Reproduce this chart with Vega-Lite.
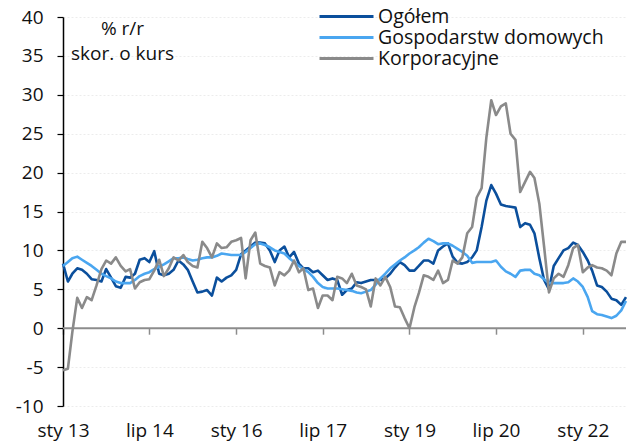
{
"$schema": "https://vega.github.io/schema/vega-lite/v6.json",
"width": 563, "height": 389,
"autosize": {"type": "none"},
"padding": {"left": 63, "top": 17, "right": 9, "bottom": 42},
"background": "white",
"config": {"font": "Open Sans", "view": {"stroke": null},
"axisY": {"values": [-10, -5, 0, 5, 10, 15, 20, 25, 30, 35, 40],
"labelExpr": "'' + datum.value", "labelOverlap": false, "labelFlush": false,
"domain": true, "domainColor": "#000000", "domainWidth": 1.5,
"ticks": true, "tickColor": "#000000", "tickSize": 6, "tickWidth": 1.2,
"labelFontSize": 19, "labelColor": "#111111", "labelPadding": 14,
"grid": true, "gridColor": "#ececec", "gridDash": [2, 2], "gridWidth": 1,
"titleAngle": 0, "titleX": 59, "titleY": 17,
"titleAlign": "center", "titleBaseline": "alphabetic", "titleFontWeight": "normal",
"titleFontSize": 19, "titleColor": "#111111", "titleLineHeight": 25}},
"layer": [
{
"data": {"values": [{}]},
"mark": {"type": "rule", "color": "#8c8c8c", "strokeWidth": 2},
"encoding": {
"y": {"datum": 0, "type": "quantitative", "scale": {"domain": [-10, 40], "nice": false, "zero": false},
"axis": {"values": [-10, -5, 0, 5, 10, 15, 20, 25, 30, 35, 40], "title": ["% r/r", "skor. o kurs"]}}
}
},
{
"data": {"values": [
{"d":"2013-01-01","o":8.3,"g":8.0,"k":-5.4},
{"d":"2013-02-01","o":6.0,"g":8.5,"k":-5.2},
{"d":"2013-03-01","o":7.0,"g":9.0,"k":-0.5},
{"d":"2013-04-01","o":7.7,"g":9.2,"k":3.9},
{"d":"2013-05-01","o":7.5,"g":8.8,"k":2.6},
{"d":"2013-06-01","o":7.0,"g":8.4,"k":4.0},
{"d":"2013-07-01","o":6.3,"g":8.0,"k":3.6},
{"d":"2013-08-01","o":6.2,"g":7.5,"k":5.5},
{"d":"2013-09-01","o":6.0,"g":7.0,"k":7.6},
{"d":"2013-10-01","o":7.6,"g":6.7,"k":8.7},
{"d":"2013-11-01","o":6.5,"g":6.4,"k":8.3},
{"d":"2013-12-01","o":5.4,"g":6.0,"k":9.1},
{"d":"2014-01-01","o":5.2,"g":5.8,"k":8.0},
{"d":"2014-02-01","o":6.6,"g":5.8,"k":7.3},
{"d":"2014-03-01","o":6.5,"g":5.8,"k":7.6},
{"d":"2014-04-01","o":7.0,"g":6.2,"k":5.1},
{"d":"2014-05-01","o":8.8,"g":6.7,"k":5.9},
{"d":"2014-06-01","o":9.0,"g":7.0,"k":6.2},
{"d":"2014-07-01","o":8.5,"g":7.2,"k":6.3},
{"d":"2014-08-01","o":9.9,"g":7.6,"k":7.4},
{"d":"2014-09-01","o":7.0,"g":7.9,"k":8.8},
{"d":"2014-10-01","o":6.8,"g":8.2,"k":6.7},
{"d":"2014-11-01","o":7.0,"g":8.6,"k":7.7},
{"d":"2014-12-01","o":7.5,"g":9.0,"k":9.1},
{"d":"2015-01-01","o":8.7,"g":9.0,"k":8.7},
{"d":"2015-02-01","o":8.2,"g":9.1,"k":9.4},
{"d":"2015-03-01","o":7.5,"g":8.9,"k":8.5},
{"d":"2015-04-01","o":6.0,"g":8.7,"k":8.0},
{"d":"2015-05-01","o":4.6,"g":8.8,"k":7.8},
{"d":"2015-06-01","o":4.7,"g":9.0,"k":11.1},
{"d":"2015-07-01","o":4.9,"g":9.1,"k":10.3},
{"d":"2015-08-01","o":4.2,"g":9.1,"k":9.1},
{"d":"2015-09-01","o":6.5,"g":9.3,"k":10.9},
{"d":"2015-10-01","o":6.0,"g":9.6,"k":10.3},
{"d":"2015-11-01","o":6.5,"g":9.5,"k":10.4},
{"d":"2015-12-01","o":6.8,"g":9.4,"k":11.1},
{"d":"2016-01-01","o":7.5,"g":9.4,"k":11.3},
{"d":"2016-02-01","o":9.5,"g":9.4,"k":11.6},
{"d":"2016-03-01","o":10.0,"g":9.8,"k":6.4},
{"d":"2016-04-01","o":10.5,"g":10.3,"k":11.3},
{"d":"2016-05-01","o":11.0,"g":10.8,"k":12.3},
{"d":"2016-06-01","o":11.0,"g":10.9,"k":8.3},
{"d":"2016-07-01","o":10.9,"g":10.7,"k":8.0},
{"d":"2016-08-01","o":10.0,"g":10.4,"k":7.8},
{"d":"2016-09-01","o":8.5,"g":10.0,"k":5.5},
{"d":"2016-10-01","o":10.0,"g":9.8,"k":7.2},
{"d":"2016-11-01","o":10.5,"g":9.6,"k":6.8},
{"d":"2016-12-01","o":9.1,"g":9.0,"k":7.4},
{"d":"2017-01-01","o":9.8,"g":8.5,"k":8.7},
{"d":"2017-02-01","o":8.3,"g":8.0,"k":7.2},
{"d":"2017-03-01","o":7.7,"g":7.6,"k":7.7},
{"d":"2017-04-01","o":7.7,"g":7.2,"k":4.9},
{"d":"2017-05-01","o":7.2,"g":6.6,"k":5.1},
{"d":"2017-06-01","o":7.4,"g":5.8,"k":2.6},
{"d":"2017-07-01","o":6.8,"g":5.3,"k":4.2},
{"d":"2017-08-01","o":6.2,"g":5.1,"k":4.2},
{"d":"2017-09-01","o":6.4,"g":5.1,"k":3.6},
{"d":"2017-10-01","o":6.2,"g":5.1,"k":6.6},
{"d":"2017-11-01","o":4.3,"g":5.0,"k":6.4},
{"d":"2017-12-01","o":4.9,"g":4.9,"k":5.8},
{"d":"2018-01-01","o":5.1,"g":4.8,"k":7.0},
{"d":"2018-02-01","o":5.9,"g":4.6,"k":5.5},
{"d":"2018-03-01","o":5.8,"g":4.5,"k":5.3},
{"d":"2018-04-01","o":6.0,"g":4.7,"k":5.0},
{"d":"2018-05-01","o":6.2,"g":4.9,"k":2.8},
{"d":"2018-06-01","o":6.2,"g":5.6,"k":6.4},
{"d":"2018-07-01","o":6.2,"g":6.4,"k":5.5},
{"d":"2018-08-01","o":6.4,"g":7.0,"k":6.6},
{"d":"2018-09-01","o":7.0,"g":7.7,"k":5.3},
{"d":"2018-10-01","o":7.8,"g":8.2,"k":2.8},
{"d":"2018-11-01","o":8.5,"g":8.7,"k":2.7},
{"d":"2018-12-01","o":8.1,"g":9.1,"k":1.3},
{"d":"2019-01-01","o":7.4,"g":9.6,"k":0.0},
{"d":"2019-02-01","o":7.4,"g":10.0,"k":2.7},
{"d":"2019-03-01","o":8.0,"g":10.4,"k":4.5},
{"d":"2019-04-01","o":8.7,"g":11.0,"k":6.8},
{"d":"2019-05-01","o":8.7,"g":11.5,"k":6.6},
{"d":"2019-06-01","o":8.3,"g":11.2,"k":6.2},
{"d":"2019-07-01","o":10.0,"g":10.8,"k":7.4},
{"d":"2019-08-01","o":10.5,"g":10.9,"k":5.8},
{"d":"2019-09-01","o":10.9,"g":10.9,"k":6.2},
{"d":"2019-10-01","o":9.2,"g":10.6,"k":8.7},
{"d":"2019-11-01","o":8.4,"g":10.2,"k":8.3},
{"d":"2019-12-01","o":8.3,"g":9.8,"k":9.1},
{"d":"2020-01-01","o":8.5,"g":9.3,"k":12.2},
{"d":"2020-02-01","o":9.1,"g":8.4,"k":13.0},
{"d":"2020-03-01","o":10.0,"g":8.5,"k":16.8},
{"d":"2020-04-01","o":13.0,"g":8.5,"k":18.0},
{"d":"2020-05-01","o":16.4,"g":8.5,"k":24.5},
{"d":"2020-06-01","o":18.4,"g":8.5,"k":29.3},
{"d":"2020-07-01","o":17.3,"g":8.7,"k":27.4},
{"d":"2020-08-01","o":15.9,"g":7.9,"k":28.5},
{"d":"2020-09-01","o":15.7,"g":7.3,"k":28.9},
{"d":"2020-10-01","o":15.6,"g":7.0,"k":25.0},
{"d":"2020-11-01","o":15.5,"g":6.6,"k":24.2},
{"d":"2020-12-01","o":13.0,"g":7.4,"k":17.5},
{"d":"2021-01-01","o":13.5,"g":7.5,"k":18.8},
{"d":"2021-02-01","o":13.3,"g":7.5,"k":20.1},
{"d":"2021-03-01","o":12.2,"g":7.0,"k":19.3},
{"d":"2021-04-01","o":9.0,"g":6.8,"k":16.0},
{"d":"2021-05-01","o":6.2,"g":6.3,"k":10.5},
{"d":"2021-06-01","o":5.0,"g":5.8,"k":4.6},
{"d":"2021-07-01","o":8.0,"g":5.8,"k":6.4},
{"d":"2021-08-01","o":9.0,"g":5.8,"k":7.0},
{"d":"2021-09-01","o":10.0,"g":5.8,"k":6.6},
{"d":"2021-10-01","o":10.3,"g":5.9,"k":8.1},
{"d":"2021-11-01","o":11.0,"g":6.4,"k":10.3},
{"d":"2021-12-01","o":10.7,"g":6.0,"k":10.7},
{"d":"2022-01-01","o":9.8,"g":5.3,"k":7.2},
{"d":"2022-02-01","o":8.7,"g":4.0,"k":7.8},
{"d":"2022-03-01","o":7.4,"g":2.2,"k":8.1},
{"d":"2022-04-01","o":5.5,"g":1.8,"k":7.8},
{"d":"2022-05-01","o":5.3,"g":1.7,"k":7.7},
{"d":"2022-06-01","o":4.7,"g":1.5,"k":7.4},
{"d":"2022-07-01","o":3.8,"g":1.3,"k":6.8},
{"d":"2022-08-01","o":3.6,"g":1.6,"k":9.6},
{"d":"2022-09-01","o":3.0,"g":2.3,"k":11.1},
{"d":"2022-10-01","o":4.0,"g":3.5,"k":11.1}
]},
"transform": [{"fold": ["o", "g", "k"], "as": ["s", "v"]}],
"mark": {"type": "line", "strokeWidth": 2.6, "strokeJoin": "round"},
"encoding": {
"x": {"field": "d", "type": "temporal",
"scale": {"type": "utc", "domain": [{"year": 2013, "month": 1, "date": 1, "utc": true}, {"year": 2022, "month": 10, "date": 1, "utc": true}]},
"axis": {"orient": "bottom", "offset": -77.8, "title": null, "domain": false, "grid": false,
"ticks": true, "tickSize": 6, "tickColor": "#8c8c8c", "tickWidth": 1.5,
"values": [{"year": 2013, "month": 1, "date": 1, "utc": true}, {"year": 2014, "month": 7, "date": 1, "utc": true}, {"year": 2016, "month": 1, "date": 1, "utc": true}, {"year": 2017, "month": 7, "date": 1, "utc": true}, {"year": 2019, "month": 1, "date": 1, "utc": true}, {"year": 2020, "month": 7, "date": 1, "utc": true}, {"year": 2022, "month": 1, "date": 1, "utc": true}],
"labelExpr": "(utcFormat(datum.value, '%m') == '01' ? 'sty ' : 'lip ') + utcFormat(datum.value, '%y')",
"labelFontSize": 19, "labelColor": "#111111", "labelPadding": 87, "labelFlush": false, "labelOverlap": false}},
"y": {"field": "v", "type": "quantitative",
"scale": {"domain": [-10, 40], "nice": false, "zero": false},
"axis": {"values": [-10, -5, 0, 5, 10, 15, 20, 25, 30, 35, 40], "title": ["% r/r", "skor. o kurs"]}},
"color": {"field": "s", "type": "nominal",
"scale": {"domain": ["o", "g", "k"], "range": ["#0b4f9c", "#4aa6f0", "#8a8a8a"]},
"legend": {"orient": "none", "legendX": 255, "legendY": -11, "title": null,
"symbolType": "stroke", "symbolSize": 2916, "symbolStrokeWidth": 3,
"labelFontSize": 19.5, "labelOffset": 3, "labelColor": "#111111", "labelLimit": 400,
"clipHeight": 21, "rowPadding": 0, "padding": 0,
"labelExpr": "datum.label == 'o' ? 'Ogółem' : datum.label == 'g' ? 'Gospodarstw domowych' : 'Korporacyjne'"}}
}
}
]
}
